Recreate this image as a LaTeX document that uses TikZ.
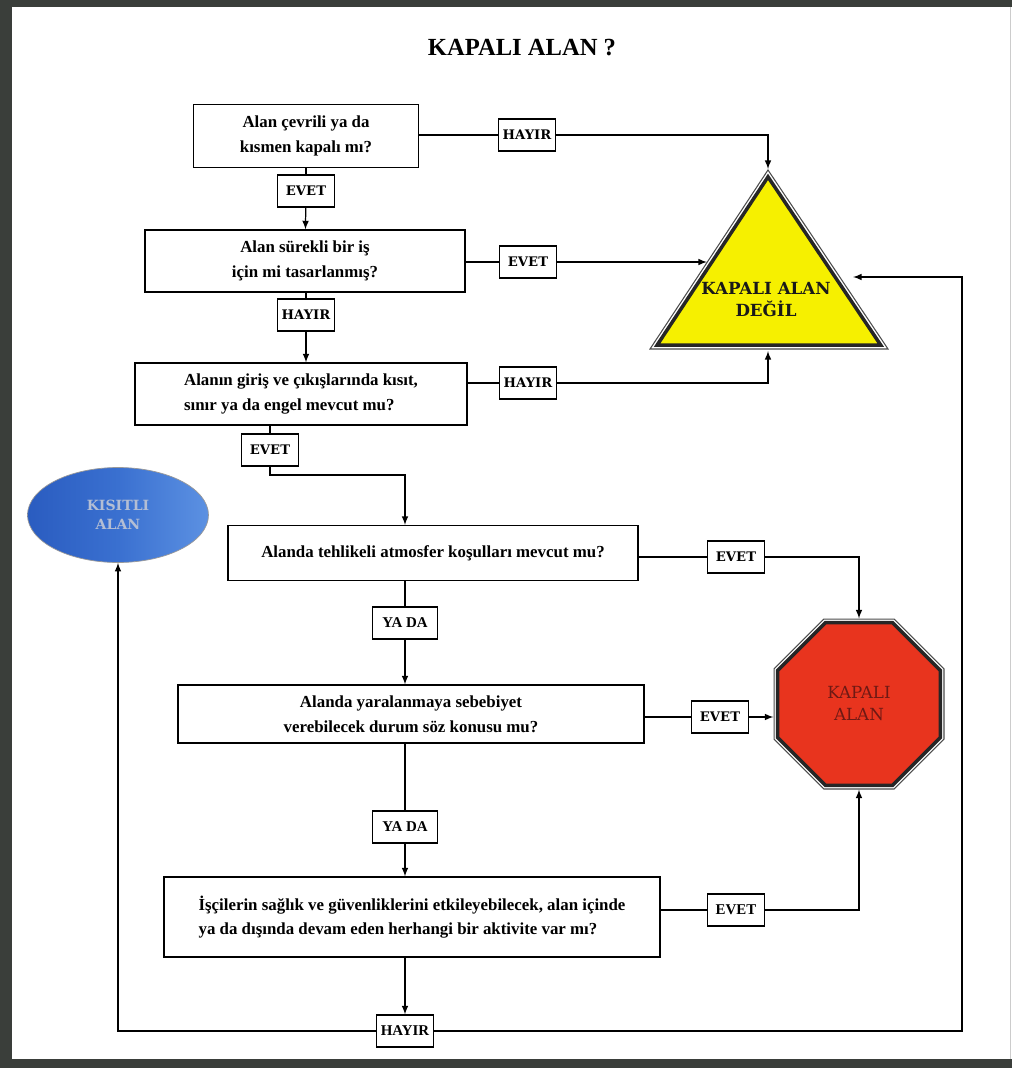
\documentclass[tikz,border=0pt]{standalone}
\usepackage{fontspec}
\setmainfont{Liberation Serif}
\newfontfamily\labelfont{DejaVu Serif}
\usepackage{tikz}
\usetikzlibrary{shapes.geometric}
\definecolor{frameg}{RGB}{58,62,58}
\definecolor{triyellow}{RGB}{246,240,0}
\definecolor{stopred}{RGB}{232,52,30}
\definecolor{stoptext}{RGB}{110,25,20}
\definecolor{elldark}{RGB}{42,92,192}
\definecolor{ellmid}{RGB}{58,112,208}
\definecolor{elllight}{RGB}{92,145,226}
\definecolor{elltext}{RGB}{180,190,212}

\begin{document}
\begin{tikzpicture}[
    x=0.02cm, y=-0.02cm,
    qbox/.style={rectangle, draw, line width=0.7pt, align=center,
                font=\bfseries\fontsize{9.6}{14}\selectfont, inner sep=2pt},
    lbl/.style={rectangle, draw, line width=0.7pt, fill=white, minimum width=1.14cm,
                minimum height=0.64cm, inner sep=1pt,
                font=\labelfont\bfseries\fontsize{7.5}{9}\selectfont},
    lbltm/.style={lbl, font=\bfseries\fontsize{8.5}{10}\selectfont},
    conn/.style={line width=0.7pt},
    arrow/.style={->, line width=0.7pt, >=latex},
    trioutline/.style={draw=black!70, line width=0.6pt},
    trifill/.style={draw=black!85, line width=2pt, fill=triyellow, line join=miter},
    stopout/.style={regular polygon, regular polygon sides=8, minimum size=3.68cm,
                inner sep=0pt, draw=black!70, line width=0.6pt},
    stopin/.style={regular polygon, regular polygon sides=8, minimum size=3.52cm,
                inner sep=0pt, draw=black!85, line width=2pt, fill=stopred, text=stoptext,
                align=center, font=\labelfont\fontsize{9.5}{12.5}\selectfont},
    ellbox/.style={ellipse, minimum width=3.62cm, minimum height=1.9cm, draw=black!40,
                line width=0.4pt, left color=elldark, right color=elllight, middle color=ellmid,
                text=elltext, align=center, font=\labelfont\bfseries\fontsize{8}{11}\selectfont}
]
    \useasboundingbox (0,0) rectangle (1012,1068);
    % frame
    \fill[frameg] (0,0) rectangle (1012,7);
    \fill[frameg] (0,0) rectangle (12,1068);
    \fill[frameg] (0,1059) rectangle (1012,1068);
    \draw[gray!40, line width=0.5pt] (1010,7) -- (1010,1059);

    \node[font=\bfseries\fontsize{14}{16}\selectfont] (title) at (522,48) {KAPALI ALAN ?};

    % questions
    \node[qbox, minimum width=4.5cm, minimum height=1.26cm] (q1) at (306,136) {Alan çevrili ya da\\kısmen kapalı mı?};
    \node[qbox, minimum width=6.4cm, minimum height=1.24cm] (q2) at (305,261) {Alan sürekli bir iş\\için mi tasarlanmış?};
    \node[qbox, minimum width=6.64cm, minimum height=1.24cm, align=left] (q3) at (301,394) {Alanın giriş ve çıkışlarında kısıt,\\sınır ya da engel mevcut mu?};
    \node[qbox, minimum width=8.2cm, minimum height=1.1cm] (q4) at (433,553) {Alanda tehlikeli atmosfer koşulları mevcut mu?};
    \node[qbox, minimum width=9.32cm, minimum height=1.16cm] (q5) at (411,714) {Alanda yaralanmaya sebebiyet\\verebilecek durum söz konusu mu?};
    \node[qbox, minimum width=9.92cm, minimum height=1.6cm, align=left] (q6) at (412,917) {İşçilerin sağlık ve güvenliklerini etkileyebilecek, alan içinde\\ya da dışında devam eden herhangi bir aktivite var mı?};

    % answers
    \node[lbl] (hayir1) at (527,135) {HAYIR};
    \node[lbl] (evet1) at (306,191) {EVET};
    \node[lbl] (evet2) at (528,262) {EVET};
    \node[lbl] (hayir2) at (306,315) {HAYIR};
    \node[lbl] (hayir3) at (528,383) {HAYIR};
    \node[lbl] (evet3) at (270,450) {EVET};
    \node[lbl] (evet4) at (736,557) {EVET};
    \node[lbltm, minimum width=1.3cm] (yada1) at (405,623) {YA DA};
    \node[lbl] (evet5) at (720,717) {EVET};
    \node[lbltm, minimum width=1.3cm] (yada2) at (405,827) {YA DA};
    \node[lbltm] (evet6) at (736,910) {EVET};
    \node[lbltm] (hayir4) at (405,1031) {HAYIR};

    % results
    \draw[trioutline] (768,170) -- (888,349) -- (650,349) -- cycle;
    \draw[trifill, scale around={0.94:(768,285)}] (768,170) -- (888,349) -- (650,349) -- cycle;
    \node[align=center, text=black!90, font=\labelfont\bfseries\fontsize{9.5}{12.5}\selectfont] (notconf) at (766,300) {KAPALI ALAN\\DEĞİL};
    \coordinate (triapex) at (768,169);
    \coordinate (trileft) at (707,262);
    \coordinate (tribase) at (768,351);
    \coordinate (triright) at (853,277);

    \node[stopout] (stopout) at (859,704) {};
    \node[stopin] (stop) at (859,704) {KAPALI\\ALAN};

    \node[ellbox] (restricted) at (118,515) {KISITLI\\ALAN};

    \coordinate (bend3) at (405,475);
    \coordinate (rloop) at (962,277);

    % connectors
    \draw[conn] (hayir1 -| q1.east) -- (hayir1);
    \draw[arrow] (hayir1) -| (triapex);
    \draw[conn] (q1) -- (evet1);
    \draw[arrow] (evet1) -- (q2);
    \draw[conn] (evet2 -| q2.east) -- (evet2);
    \draw[arrow] (evet2) -- (trileft);
    \draw[conn] (q2.south -| hayir2) -- (hayir2);
    \draw[arrow] (hayir2) -- (hayir2 |- q3.north);
    \draw[conn] (hayir3 -| q3.east) -- (hayir3);
    \draw[arrow] (hayir3) -| (tribase);
    \draw[conn] (q3.south -| evet3) -- (evet3);
    \draw[arrow] (evet3.south) |- (bend3) -- (bend3 |- q4.north);
    \draw[conn] (evet4 -| q4.east) -- (evet4);
    \draw[arrow] (evet4) -| (stopout.north);
    \draw[conn] (q4.south -| yada1) -- (yada1);
    \draw[arrow] (yada1) -- (yada1 |- q5.north);
    \draw[conn] (evet5 -| q5.east) -- (evet5);
    \draw[arrow] (evet5) -- (evet5 -| stopout.west);
    \draw[conn] (q5.south -| yada2) -- (yada2);
    \draw[arrow] (yada2) -- (yada2 |- q6.north);
    \draw[conn] (evet6 -| q6.east) -- (evet6);
    \draw[arrow] (evet6) -| (stopout.south);
    \draw[arrow] (q6.south -| hayir4) -- (hayir4);
    \draw[arrow] (hayir4) -| (restricted);
    \draw[arrow] (hayir4) -| (rloop) -- (triright);
\end{tikzpicture}
\end{document}
